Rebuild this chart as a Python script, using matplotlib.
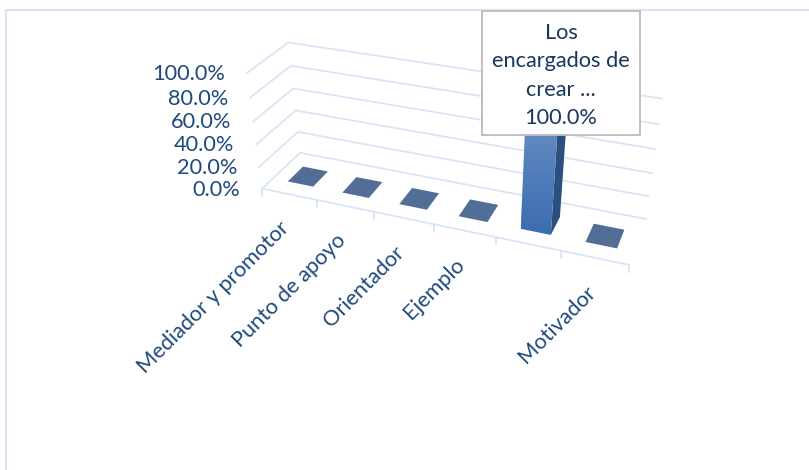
import numpy as np
import matplotlib
matplotlib.use('Agg')
import matplotlib.pyplot as plt
from matplotlib.colors import LinearSegmentedColormap
from matplotlib.patches import Polygon, Rectangle

categories = ['Mediador y promotor', 'Punto de apoyo', 'Orientador', 'Ejemplo',
              'Los encargados de crear ...', 'Motivador']
values = [0.0, 0.0, 0.0, 0.0, 100.0, 0.0]
value_ticks = [0, 20, 40, 60, 80, 100]
hidden_tick_labels = ['Los encargados de crear ...']

plt.rcParams['font.family'] = ['Lato', 'DejaVu Sans']

GRID = '#d9e5f6'
TEXT = '#1f497d'
FONT = 15.7

# pixel positions of the frame, (category, depth, value/100) -> (x, y), used to fit the camera
frame_pts = [
    (0, 0, 0, 262, 189), (1, 0, 0, 317, 200), (2, 0, 0, 374, 212), (3, 0, 0, 433, 224),
    (4, 0, 0, 496, 237), (5, 0, 0, 561, 250), (6, 0, 0, 630, 265),
    (0, 0, .2, 259, 167), (0, 0, .4, 257, 144), (0, 0, .6, 253, 122), (0, 0, .8, 250, 98), (0, 0, 1, 247, 73),
    (0, 1, 0, 300, 153), (0, 1, .2, 298, 132), (0, 1, .4, 296, 110), (0, 1, .6, 293, 88), (0, 1, .8, 291, 66),
    (0, 1, 1, 288, 42),
    (6, 1, 0, 646, 219), (6, 1, .2, 649, 197), (6, 1, .4, 652, 173), (6, 1, .6, 655, 149), (6, 1, .8, 658, 124),
    (6, 1, 1, 662, 99),
]


def fit_camera(pts):
    rows, rhs = [], []
    for u, d, v, x, y in pts:
        rows.append([u, d, v, 1, 0, 0, 0, 0, -x * u, -x * d, -x * v])
        rows.append([0, 0, 0, 0, u, d, v, 1, -y * u, -y * d, -y * v])
        rhs += [x, y]
    p = np.linalg.lstsq(np.array(rows, float), np.array(rhs, float), rcond=None)[0]
    return np.append(p, 1).reshape(3, 4)


CAM = fit_camera(frame_pts)


def project(u, d, v):
    q = CAM @ np.array([u, d, v, 1.0])
    return q[0] / q[2], q[1] / q[2]


fig = plt.figure(figsize=(8.09, 4.70), dpi=100)
ax = fig.add_axes([0, 0, 1, 1])
ax.axis('off')

# chart border
ax.plot([809, 6, 6], [10, 10, 470], color=GRID, lw=1.6, zorder=1)

# grid on the walls
for t in value_ticks:
    v = t / 100
    pts = [project(0, 0, v), project(0, 1, v), project(6, 1, v)]
    ax.plot(*zip(*pts), color=GRID, lw=1.3, zorder=1)
    x, y = project(0, 0, v)
    ax.text(x - 22, y + 1, f'{t:.1f}%', ha='right', va='center', fontsize=FONT, color=TEXT, zorder=5)

# floor
ax.plot(*zip(project(0, 0, 0), project(6, 0, 0)), color=GRID, lw=1.3, zorder=1)
for u in range(len(categories) + 1):
    x, y = project(u, 0, 0)
    ax.plot([x, x], [y, y + 7], color=GRID, lw=1.3, zorder=1)

# bars
gap_left, gap_right = 0.28, 0.25
d0, d1 = 0.27, 0.68
shade = LinearSegmentedColormap.from_list('shade', ['#6a91c6', '#3a6cb0'])
for i, val in enumerate(values):
    u0, u1 = i + gap_left, i + 1 - gap_right
    v = val / 100
    if v > 0:
        side = [project(u1, d0, 0), project(u1, d1, 0), project(u1, d1, v), project(u1, d0, v)]
        ax.add_patch(Polygon(side, fc='#2c4f7e', ec='none', zorder=3))
        # front face with a vertical gradient, clipped to the face
        face = np.array([project(u0, d0, 0), project(u1, d0, 0), project(u1, d0, v), project(u0, d0, v)])
        poly = Polygon(face, fc='none', ec='none', transform=ax.transData)
        ax.add_patch(poly)
        im = ax.imshow(np.linspace(0, 1, 128).reshape(-1, 1), cmap=shade, aspect='auto', zorder=3,
                       extent=(face[:, 0].min(), face[:, 0].max(), face[:, 1].max(), face[:, 1].min()))
        im.set_clip_path(poly)
    top = [project(u0, d0, v), project(u1, d0, v), project(u1, d1, v), project(u0, d1, v)]
    ax.add_patch(Polygon(top, fc='#526e96', ec='none', zorder=3))

    if categories[i] not in hidden_tick_labels:
        x, y = project(i + 0.5, 0, 0)
        ax.text(x - 10, y + 24, categories[i], rotation=45, rotation_mode='anchor', ha='right', va='top',
                fontsize=FONT, color=TEXT, zorder=5)

# data label
peak = int(np.argmax(values))
ax.add_patch(Rectangle((482, 11), 158, 124, fc='white', ec='#bfbfbf', lw=1.4, zorder=6))
ax.text(561, 75.5, f'Los\nencargados de\ncrear ...\n{values[peak]:.1f}%', ha='center', va='center',
        fontsize=FONT, color='#17375e', linespacing=1.53, zorder=7)

ax.set_xlim(0, 809)
ax.set_ylim(470, 0)

fig.savefig('out.png', dpi=100)
